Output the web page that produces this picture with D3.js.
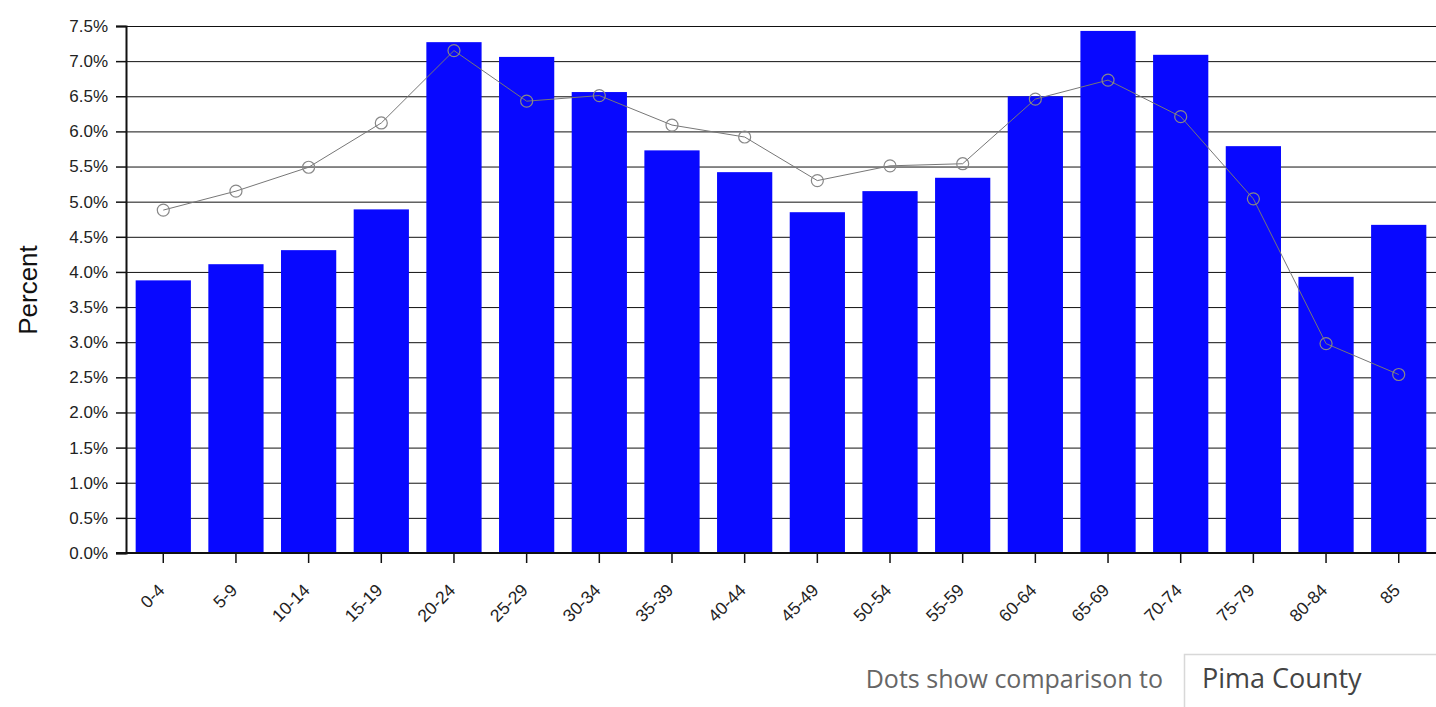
<!DOCTYPE html>
<html>
<head>
<meta charset="utf-8">
<script src="https://cdn.jsdelivr.net/npm/d3@7"></script>
<style>
  body { margin: 0; background: #fff; font-family: "Liberation Sans", Arial, sans-serif; }
  .axis text { font-family: "Liberation Sans", Arial, sans-serif; fill: #222; }
  .axis path, .axis line { stroke: #111; }
  .grid line { stroke: #111; }
  .grid path { display: none; }
</style>
</head>
<body>
<script>
// age groups (x categories)
var ageGroups = ["0-4", "5-9", "10-14", "15-19", "20-24", "25-29", "30-34", "35-39", "40-44",
                 "45-49", "50-54", "55-59", "60-64", "65-69", "70-74", "75-79", "80-84", "85"];
// bars: area population share, percent
var areaPct = [3.88, 4.11, 4.31, 4.89, 7.27, 7.06, 6.56, 5.73, 5.42,
               4.85, 5.15, 5.34, 6.50, 7.43, 7.09, 5.79, 3.93, 4.67];
// dots: Pima County share, percent
var countyPct = [4.88, 5.15, 5.49, 6.12, 7.15, 6.43, 6.51, 6.09, 5.92,
                 5.30, 5.51, 5.54, 6.46, 6.73, 6.21, 5.04, 2.98, 2.54];
// y tick labels
var yTicks = [0, 0.5, 1, 1.5, 2, 2.5, 3, 3.5, 4, 4.5, 5, 5.5, 6, 6.5, 7, 7.5];

var W = 1436, H = 707,
    margin = {top: 26, left: 126, right: 0},
    plotBottom = 553;

var svg = d3.select("body").append("svg")
    .attr("width", W)
    .attr("height", H);

var x = d3.scaleBand()
    .domain(ageGroups)
    .range([margin.left, W - margin.right])
    .paddingInner(0.24)
    .paddingOuter(0.133);

var y = d3.scaleLinear()
    .domain([0, 7.5])
    .range([plotBottom, margin.top]);

// gridlines
svg.append("g")
    .attr("class", "grid")
    .attr("transform", "translate(" + margin.left + ",0)")
    .call(d3.axisRight(y).tickValues(yTicks).tickSize(W - margin.left).tickFormat(""));

// bars
svg.selectAll(".bar")
    .data(areaPct)
    .enter().append("rect")
    .attr("class", "bar")
    .attr("x", function(d, i) { return x(ageGroups[i]); })
    .attr("y", function(d) { return y(d); })
    .attr("width", x.bandwidth())
    .attr("height", function(d) { return plotBottom - y(d); })
    .attr("fill", "#0808ff");

// comparison line + dots
var line = d3.line()
    .x(function(d, i) { return x(ageGroups[i]) + x.bandwidth() / 2; })
    .y(function(d) { return y(d); });

svg.append("path")
    .datum(countyPct)
    .attr("d", line)
    .attr("fill", "none")
    .attr("stroke", "#777")
    .attr("stroke-width", 1);

svg.selectAll(".dot")
    .data(countyPct)
    .enter().append("circle")
    .attr("class", "dot")
    .attr("cx", function(d, i) { return x(ageGroups[i]) + x.bandwidth() / 2; })
    .attr("cy", function(d) { return y(d); })
    .attr("r", 6)
    .attr("fill", "none")
    .attr("stroke", "#888")
    .attr("stroke-width", 1.2);

// y axis
var gY = svg.append("g")
    .attr("class", "axis axis--y")
    .attr("transform", "translate(" + margin.left + ",0)")
    .call(d3.axisLeft(y).tickValues(yTicks).tickSize(10).tickPadding(8)
      .tickFormat(function(d) { return d.toFixed(1) + "%"; }));
gY.attr("font-size", null);
gY.selectAll("text").style("font-size", "17px");
gY.select(".domain").attr("stroke-width", 2);
gY.selectAll(".tick line").attr("stroke-width", 1.5);

// x axis
var gX = svg.append("g")
    .attr("class", "axis axis--x")
    .attr("transform", "translate(0," + plotBottom + ")")
    .call(d3.axisBottom(x).tickSize(10).tickSizeOuter(0));
gX.attr("font-size", null);
gX.select(".domain").attr("d", "M" + (margin.left - 10) + ",0H" + W).attr("stroke-width", 2);
gX.selectAll(".tick line").attr("stroke-width", 1.5);
gX.selectAll("text")
    .style("font-size", "17.5px")
    .style("text-anchor", "end")
    .attr("x", 0)
    .attr("y", 0)
    .attr("dy", "0.35em")
    .attr("transform", "translate(-2,34) rotate(-45)");

// y label
svg.append("text")
    .attr("transform", "rotate(-90)")
    .attr("x", -290)
    .attr("y", 37)
    .style("text-anchor", "middle")
    .style("font-size", "26px")
    .style("fill", "#111")
    .text("Percent");

// comparison selector
svg.append("text")
    .attr("x", 1163)
    .attr("y", 688)
    .style("text-anchor", "end")
    .style("font-family", "'Open Sans', 'Noto Sans', sans-serif")
    .style("font-size", "25px")
    .style("fill", "#666")
    .text("Dots show comparison to");

svg.append("rect")
    .attr("x", 1184.5)
    .attr("y", 654.5)
    .attr("width", 270)
    .attr("height", 60)
    .attr("fill", "#fff")
    .attr("stroke", "#d8d8d8")
    .attr("stroke-width", 1.5);

svg.append("text")
    .attr("x", 1202)
    .attr("y", 688)
    .style("font-family", "'Open Sans', 'Noto Sans', sans-serif")
    .style("font-size", "27px")
    .style("fill", "#444")
    .text("Pima County");
</script>
</body>
</html>
